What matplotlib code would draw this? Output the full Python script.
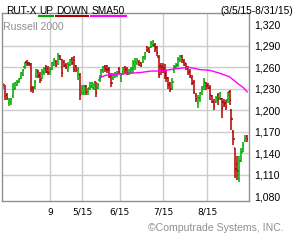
import numpy as np
import matplotlib.pyplot as plt
from matplotlib.lines import Line2D

# daily bars, Russell 2000 (RUT-X), 3/5/15 - 8/31/15
opens = [1232, 1235, 1222, 1210, 1212, 1220, 1230, 1236, 1240, 1246,
         1250, 1260, 1268, 1266, 1265, 1232, 1232, 1248, 1254, 1250,
         1246, 1252, 1260, 1258, 1254, 1258, 1264, 1268, 1265, 1276,
         1270, 1268, 1264, 1256, 1264, 1272, 1270, 1262, 1250, 1250,
         1226, 1225, 1234, 1226, 1232, 1234, 1232, 1240, 1232, 1242,
         1248, 1255, 1262, 1262, 1258, 1250, 1246, 1248, 1250, 1258,
         1245, 1253, 1260, 1258, 1252, 1254, 1258, 1262, 1266, 1268,
         1266, 1268, 1274, 1288, 1286, 1288, 1291, 1292, 1288, 1275,
         1262, 1260, 1258, 1252, 1245, 1238, 1232, 1256, 1260, 1264,
         1270, 1276, 1268, 1266, 1258, 1254, 1246, 1240, 1220, 1210,
         1218, 1226, 1234, 1238, 1236, 1232, 1220, 1212, 1212, 1222,
         1218, 1216, 1212, 1210, 1214, 1226, 1200, 1170, 1148, 1125,
         1105, 1130, 1146, 1158, 1164]
highs = [1238, 1236, 1224, 1218, 1218, 1238, 1240, 1242, 1246, 1254,
         1258, 1268, 1270, 1268, 1266, 1234, 1242, 1258, 1256, 1254,
         1258, 1260, 1264, 1262, 1260, 1268, 1273, 1270, 1280, 1278,
         1272, 1270, 1266, 1267, 1272, 1275, 1276, 1264, 1261, 1252,
         1236, 1236, 1236, 1232, 1240, 1240, 1238, 1240, 1238, 1250,
         1258, 1262, 1263, 1263, 1261, 1252, 1252, 1253, 1255, 1261,
         1252, 1261, 1262, 1261, 1258, 1260, 1270, 1273, 1273, 1270,
         1268, 1276, 1282, 1290, 1289, 1297, 1298, 1294, 1290, 1277,
         1266, 1266, 1265, 1256, 1247, 1240, 1245, 1264, 1266, 1275,
         1278, 1278, 1272, 1266, 1262, 1258, 1250, 1242, 1225, 1222,
         1226, 1234, 1245, 1240, 1238, 1236, 1222, 1216, 1220, 1224,
         1226, 1218, 1216, 1214, 1226, 1228, 1202, 1173, 1148, 1136,
         1136, 1148, 1156, 1166, 1166]
lows = [1230, 1215, 1214, 1206, 1208, 1218, 1228, 1234, 1238, 1244,
        1248, 1258, 1262, 1262, 1226, 1224, 1230, 1246, 1246, 1238,
        1244, 1250, 1252, 1250, 1250, 1256, 1262, 1260, 1263, 1270,
        1247, 1260, 1258, 1254, 1262, 1264, 1254, 1254, 1243, 1215,
        1222, 1222, 1222, 1222, 1228, 1231, 1229, 1219, 1230, 1240,
        1246, 1252, 1254, 1252, 1246, 1233, 1243, 1245, 1247, 1251,
        1240, 1250, 1252, 1250, 1250, 1251, 1252, 1256, 1264, 1262,
        1260, 1266, 1270, 1282, 1280, 1287, 1289, 1282, 1276, 1245,
        1250, 1252, 1244, 1240, 1230, 1226, 1228, 1252, 1258, 1261,
        1268, 1266, 1262, 1257, 1250, 1245, 1236, 1223, 1212, 1204,
        1212, 1222, 1228, 1228, 1230, 1215, 1210, 1200, 1210, 1208,
        1214, 1190, 1205, 1200, 1210, 1208, 1173, 1152, 1106, 1103,
        1100, 1128, 1142, 1156, 1156]
closes = [1236, 1220, 1218, 1214, 1216, 1234, 1238, 1240, 1244, 1252,
          1256, 1266, 1265, 1264, 1230, 1228, 1240, 1256, 1248, 1242,
          1254, 1258, 1254, 1252, 1258, 1266, 1270, 1262, 1276, 1272,
          1252, 1262, 1260, 1264, 1270, 1266, 1256, 1256, 1258, 1222,
          1232, 1234, 1226, 1230, 1238, 1238, 1236, 1225, 1236, 1246,
          1256, 1260, 1258, 1256, 1248, 1238, 1250, 1252, 1254, 1253,
          1250, 1258, 1256, 1252, 1256, 1258, 1266, 1268, 1270, 1264,
          1262, 1274, 1280, 1284, 1282, 1294, 1295, 1286, 1280, 1250,
          1256, 1254, 1250, 1245, 1235, 1230, 1240, 1260, 1264, 1272,
          1276, 1270, 1264, 1260, 1254, 1248, 1238, 1226, 1216, 1218,
          1224, 1232, 1240, 1234, 1232, 1222, 1212, 1206, 1218, 1216,
          1224, 1204, 1208, 1205, 1222, 1214, 1188, 1160, 1118, 1115,
          1130, 1142, 1152, 1162, 1160]

# 50-day moving average, read at a few points
sma_idx = [49, 52, 55, 60, 65, 70, 75, 80, 85, 90, 95, 100, 105, 110, 115, 119, 122, 124]
sma_val = [1246, 1249, 1250, 1251, 1252, 1253, 1255, 1255, 1257, 1259, 1260, 1257,
           1256, 1252, 1247, 1238, 1232, 1226]

ytick_vals = [1080, 1110, 1140, 1170, 1200, 1230, 1260, 1290, 1320]
xtick_pos = [23.9, 40.1, 59.4, 81.2, 103.6]
xtick_labels = ['9', '5/15', '6/15', '7/15', '8/15']

UP = '#00a800'
DOWN = '#b00000'
SMA = '#ff00ff'
FONT = 'Liberation Sans'
FS = 7.6
HFS = 7.3

fig = plt.figure(figsize=(3, 2.4), dpi=100)
ax = fig.add_axes([2/300, 1 - 201/240, 247/300, 188/240])
ax.set_xlim(-0.5, 124.9)
ax.set_ylim(1073.7, 1336)

# grid
for v in ytick_vals[1:-1]:
    ax.axhline(v, color='#cccccc', lw=1, zorder=0)
for p in xtick_pos:
    ax.axvline(p, color='#cccccc', lw=1, zorder=0)

# OHLC bars
for i in range(len(closes)):
    c = UP if closes[i] >= opens[i] else DOWN
    ax.plot([i, i], [lows[i], highs[i]], color=c, lw=1.1, solid_capstyle='butt')
    ax.plot([i - 0.6, i], [opens[i], opens[i]], color=c, lw=1.1, solid_capstyle='butt')
    ax.plot([i, i + 0.6], [closes[i], closes[i]], color=c, lw=1.1, solid_capstyle='butt')

ax.plot(sma_idx, sma_val, color=SMA, lw=1.0)

for s in ax.spines.values():
    s.set_color('#909090')
    s.set_linewidth(1)

ax.yaxis.tick_right()
ax.set_yticks(ytick_vals)
ax.set_yticklabels(['{:,}'.format(v) for v in ytick_vals], fontsize=FS, family=FONT)
ax.set_xticks(xtick_pos)
ax.set_xticklabels(xtick_labels, fontsize=6.5, family='DejaVu Sans')
ax.tick_params(length=0, pad=4)
ax.tick_params(axis='x', pad=5)

ax.text(0.004, 0.925, 'Russell 2000', transform=ax.transAxes, fontsize=FS,
        family=FONT, color='#909090', va='center')

# header words with coloured underlines (pixel spans)
base = 1 - 13.5/240
fig.text(6/300, base, 'RUT-X', fontsize=HFS, family=FONT, va='baseline')
for w, x0, x1, col in [('UP', 39, 53, UP), ('DOWN', 56, 88, DOWN), ('SMA50', 91, 126, SMA)]:
    fig.text((x0 + x1) / 600, base, w, fontsize=HFS, family=FONT, va='baseline', ha='center')
    fig.add_artist(Line2D([x0/300, x1/300], [1 - 16/240, 1 - 16/240],
                          color=col, lw=1.5, transform=fig.transFigure))
fig.text(293/300, base, '(3/5/15-8/31/15)', fontsize=HFS, family=FONT,
         va='baseline', ha='right')

fig.text(284/300, 1 - 228/240, '\u00a9Computrade Systems, INC.', fontsize=FS,
         family=FONT, color='#909090', va='center', ha='right')

fig.savefig('out.png', dpi=100)
